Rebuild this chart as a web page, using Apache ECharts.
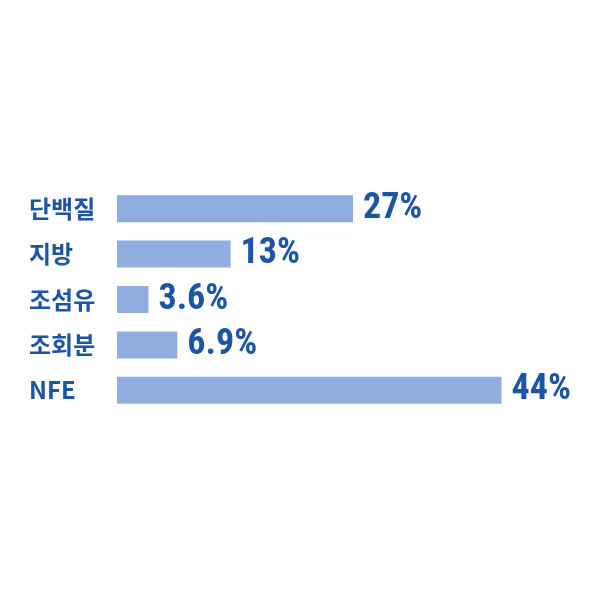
<!DOCTYPE html>
<html>
<head>
<meta charset="utf-8">
<script src="https://cdn.jsdelivr.net/npm/echarts@6/dist/echarts.min.js"></script>
<style>
    html, body { margin: 0; padding: 0; background: #ffffff; }
    #chart { width: 600px; height: 600px; }
</style>
</head>
<body>
<div id="chart"></div>
<script>
// 성분 비율 데이터
const categories = ['단백질', '지방', '조섬유', '조회분', 'NFE']
const values = [27, 13, 3.6, 6.9, 44]

const barColor = '#8fadde'
const textColor = '#1c55a6'

const chart = echarts.init(document.getElementById('chart'))

const option = {
    backgroundColor: '#ffffff',
    grid: {
        left: 117,
        right: 46,
        top: 186,
        height: 227,
        containLabel: false
    },
    xAxis: {
        type: 'value',
        min: 0,
        max: 50,
        show: false
    },
    yAxis: {
        type: 'category',
        data: categories,
        inverse: true,
        axisLine: { show: false },
        axisTick: { show: false },
        splitLine: { show: false },
        axisLabel: {
            align: 'left',
            margin: 88,
            color: textColor,
            fontFamily: 'Noto Sans CJK KR',
            fontWeight: 'bold',
            fontSize: 24
        }
    },
    series: [{
        type: 'bar',
        data: values,
        barWidth: 27,
        itemStyle: {
            color: barColor
        },
        label: {
            show: true,
            position: 'right',
            distance: 10,
            formatter: '{c}%',
            color: textColor,
            fontFamily: '"Liberation Sans Narrow", "Roboto Condensed", Roboto, sans-serif',
            fontWeight: 'bold',
            fontSize: 36
        }
    }]
}

chart.setOption(option)
</script>
</body>
</html>
